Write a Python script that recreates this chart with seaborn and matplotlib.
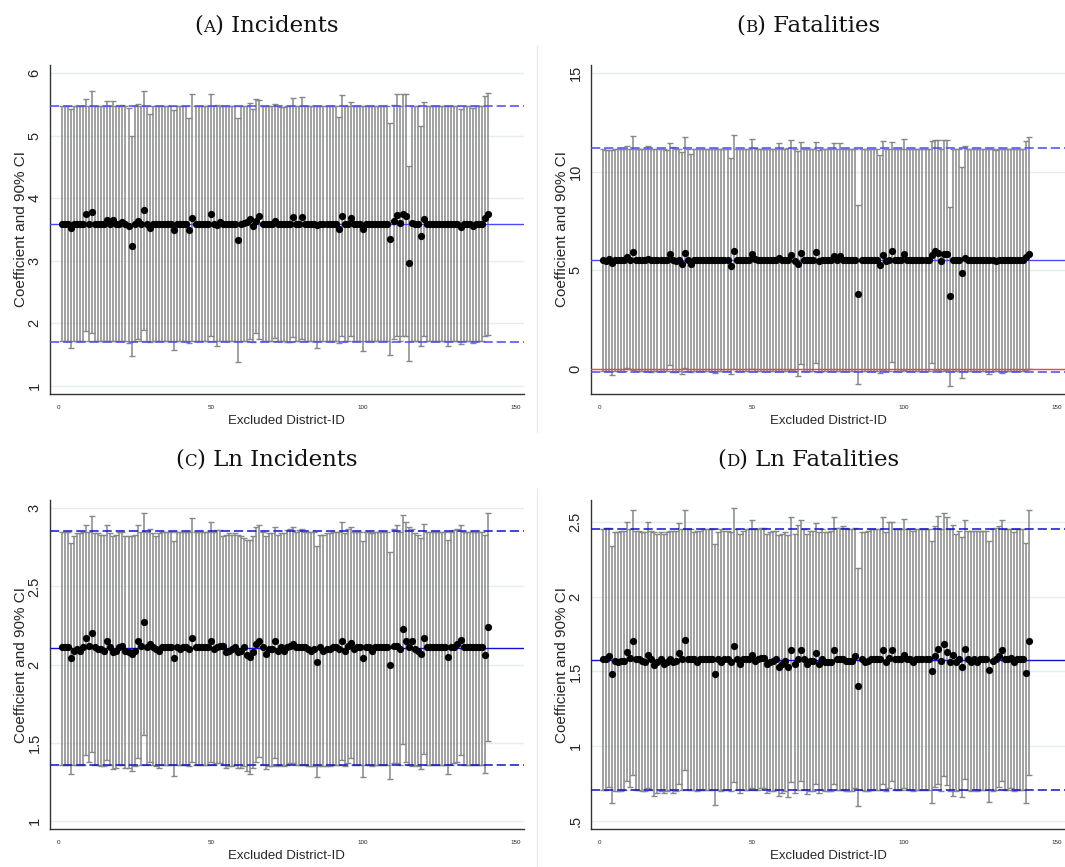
import numpy as np
import pandas as pd
import seaborn as sns
import matplotlib.pyplot as plt
from matplotlib.lines import Line2D

# Excluded district ids (one regression per excluded district)
district = list(range(1, 142))

# (A) Incidents
inc_coef = [3.59, 3.59, 3.59, 3.52, 3.59, 3.59, 3.59, 3.59, 3.74, 3.59,
            3.78, 3.59, 3.59, 3.59, 3.59, 3.65, 3.59, 3.65, 3.59, 3.59,
            3.62, 3.59, 3.55, 3.23, 3.59, 3.64, 3.59, 3.81, 3.59, 3.53,
            3.59, 3.59, 3.59, 3.59, 3.59, 3.59, 3.59, 3.49, 3.59, 3.59,
            3.59, 3.59, 3.49, 3.69, 3.59, 3.59, 3.59, 3.59, 3.59, 3.74,
            3.59, 3.57, 3.62, 3.59, 3.59, 3.59, 3.59, 3.59, 3.33, 3.59,
            3.60, 3.62, 3.67, 3.56, 3.64, 3.72, 3.59, 3.59, 3.59, 3.59,
            3.64, 3.59, 3.59, 3.59, 3.59, 3.59, 3.70, 3.59, 3.59, 3.70,
            3.59, 3.59, 3.59, 3.59, 3.57, 3.59, 3.59, 3.59, 3.59, 3.59,
            3.59, 3.50, 3.72, 3.59, 3.59, 3.68, 3.59, 3.59, 3.59, 3.51,
            3.59, 3.59, 3.59, 3.59, 3.59, 3.59, 3.59, 3.59, 3.35, 3.63,
            3.73, 3.60, 3.74, 3.72, 2.96, 3.61, 3.59, 3.59, 3.39, 3.67,
            3.59, 3.59, 3.59, 3.59, 3.59, 3.59, 3.59, 3.59, 3.59, 3.59,
            3.59, 3.54, 3.59, 3.59, 3.59, 3.56, 3.59, 3.59, 3.59, 3.69,
            3.75]
inc_hi = [5.47, 5.47, 5.47, 5.42, 5.47, 5.47, 5.47, 5.47, 5.58, 5.47,
          5.71, 5.47, 5.47, 5.47, 5.47, 5.56, 5.47, 5.55, 5.47, 5.47,
          5.49, 5.47, 5.45, 4.99, 5.47, 5.50, 5.47, 5.72, 5.47, 5.35,
          5.47, 5.47, 5.47, 5.47, 5.47, 5.47, 5.47, 5.41, 5.47, 5.47,
          5.47, 5.47, 5.29, 5.66, 5.47, 5.47, 5.47, 5.47, 5.47, 5.66,
          5.47, 5.49, 5.48, 5.47, 5.47, 5.47, 5.47, 5.47, 5.29, 5.47,
          5.47, 5.48, 5.53, 5.43, 5.58, 5.57, 5.47, 5.47, 5.47, 5.47,
          5.50, 5.47, 5.46, 5.46, 5.47, 5.47, 5.61, 5.47, 5.47, 5.62,
          5.47, 5.47, 5.47, 5.47, 5.48, 5.47, 5.47, 5.47, 5.47, 5.47,
          5.47, 5.30, 5.65, 5.47, 5.47, 5.54, 5.47, 5.47, 5.47, 5.47,
          5.47, 5.47, 5.47, 5.47, 5.47, 5.47, 5.47, 5.47, 5.21, 5.49,
          5.67, 5.47, 5.67, 5.66, 4.51, 5.48, 5.47, 5.47, 5.15, 5.54,
          5.47, 5.47, 5.47, 5.47, 5.47, 5.47, 5.47, 5.48, 5.47, 5.47,
          5.47, 5.43, 5.47, 5.47, 5.47, 5.45, 5.47, 5.47, 5.47, 5.64,
          5.69]
inc_lo = [1.71, 1.71, 1.71, 1.61, 1.71, 1.71, 1.71, 1.71, 1.87, 1.71,
          1.84, 1.71, 1.71, 1.71, 1.71, 1.72, 1.71, 1.72, 1.71, 1.71,
          1.72, 1.71, 1.68, 1.47, 1.71, 1.74, 1.71, 1.89, 1.71, 1.70,
          1.71, 1.71, 1.71, 1.71, 1.71, 1.71, 1.71, 1.57, 1.71, 1.71,
          1.71, 1.71, 1.68, 1.71, 1.71, 1.71, 1.71, 1.71, 1.71, 1.79,
          1.71, 1.64, 1.72, 1.71, 1.71, 1.71, 1.71, 1.71, 1.38, 1.71,
          1.71, 1.72, 1.74, 1.70, 1.85, 1.74, 1.71, 1.71, 1.71, 1.71,
          1.76, 1.71, 1.71, 1.71, 1.70, 1.70, 1.78, 1.71, 1.71, 1.75,
          1.71, 1.71, 1.71, 1.71, 1.61, 1.71, 1.71, 1.71, 1.71, 1.71,
          1.71, 1.68, 1.79, 1.71, 1.71, 1.80, 1.71, 1.71, 1.71, 1.56,
          1.71, 1.71, 1.71, 1.71, 1.71, 1.71, 1.71, 1.71, 1.49, 1.75,
          1.79, 1.71, 1.80, 1.79, 1.40, 1.72, 1.71, 1.71, 1.64, 1.80,
          1.71, 1.71, 1.71, 1.71, 1.71, 1.71, 1.71, 1.64, 1.71, 1.71,
          1.71, 1.66, 1.71, 1.71, 1.71, 1.69, 1.71, 1.71, 1.71, 1.79,
          1.81]
inc_ref = [3.59, 1.70, 5.48]  # full-sample coefficient, lower and upper bound

# (B) Fatalities
fat_coef = [5.53, 5.50, 5.60, 5.36, 5.53, 5.53, 5.53, 5.53, 5.70, 5.55,
            5.93, 5.53, 5.53, 5.53, 5.53, 5.58, 5.53, 5.53, 5.53, 5.53,
            5.53, 5.53, 5.85, 5.55, 5.48, 5.53, 5.31, 5.90, 5.55, 5.30,
            5.53, 5.53, 5.53, 5.53, 5.53, 5.53, 5.53, 5.53, 5.53, 5.53,
            5.53, 5.53, 5.20, 5.96, 5.53, 5.53, 5.53, 5.53, 5.53, 5.83,
            5.60, 5.53, 5.53, 5.53, 5.53, 5.53, 5.53, 5.53, 5.65, 5.53,
            5.53, 5.53, 5.80, 5.45, 5.32, 5.90, 5.53, 5.53, 5.53, 5.53,
            5.93, 5.48, 5.53, 5.53, 5.53, 5.53, 5.74, 5.55, 5.72, 5.53,
            5.53, 5.53, 5.53, 5.53, 3.79, 5.53, 5.53, 5.53, 5.53, 5.53,
            5.53, 5.26, 5.77, 5.45, 5.55, 5.96, 5.53, 5.53, 5.53, 5.82,
            5.53, 5.53, 5.53, 5.53, 5.53, 5.53, 5.53, 5.53, 5.80, 6.00,
            5.86, 5.50, 5.82, 5.83, 3.70, 5.53, 5.53, 5.53, 4.88, 5.62,
            5.53, 5.53, 5.53, 5.53, 5.53, 5.53, 5.53, 5.53, 5.53, 5.45,
            5.53, 5.53, 5.53, 5.53, 5.53, 5.53, 5.53, 5.53, 5.53, 5.70,
            5.85]
fat_hi = [11.15, 11.10, 11.12, 11.08, 11.18, 11.18, 11.18, 11.18, 11.33, 11.18,
          11.80, 11.18, 11.18, 11.18, 11.18, 11.30, 11.18, 11.18, 11.18, 11.18,
          11.15, 11.12, 11.48, 11.28, 11.18, 11.18, 11.02, 11.75, 11.18, 10.90,
          11.18, 11.18, 11.18, 11.18, 11.18, 11.18, 11.18, 11.18, 11.18, 11.18,
          11.18, 11.15, 10.70, 11.88, 11.18, 11.18, 11.18, 11.18, 11.18, 11.65,
          11.20, 11.18, 11.18, 11.18, 11.18, 11.18, 11.18, 11.18, 11.45, 11.18,
          11.18, 11.22, 11.60, 11.18, 11.05, 11.50, 11.18, 11.18, 11.18, 11.18,
          11.50, 11.12, 11.18, 11.18, 11.18, 11.18, 11.45, 11.18, 11.47, 11.18,
          11.18, 11.18, 11.18, 11.18, 8.30, 11.18, 11.18, 11.18, 11.18, 11.18,
          11.18, 10.85, 11.55, 11.15, 11.18, 11.50, 11.18, 11.18, 11.18, 11.65,
          11.18, 11.18, 11.18, 11.18, 11.18, 11.18, 11.18, 11.18, 11.58, 11.60,
          11.62, 11.18, 11.62, 11.62, 8.20, 11.18, 11.18, 11.18, 10.25, 11.30,
          11.18, 11.18, 11.18, 11.18, 11.18, 11.18, 11.18, 11.18, 11.18, 11.10,
          11.18, 11.18, 11.18, 11.18, 11.18, 11.18, 11.18, 11.18, 11.18, 11.55,
          11.75]
fat_lo = [-0.12, -0.12, -0.12, -0.30, -0.12, -0.12, -0.12, -0.12, 0.05, 0.02,
          -0.05, -0.12, -0.12, -0.12, -0.12, -0.12, -0.18, -0.12, -0.12, -0.12,
          -0.12, -0.12, 0.18, -0.15, -0.15, -0.12, -0.28, 0.05, -0.12, -0.15,
          -0.12, -0.12, -0.12, -0.12, -0.12, -0.12, -0.12, -0.20, -0.12, -0.12,
          -0.12, -0.12, -0.25, 0.02, -0.12, -0.12, -0.12, -0.12, -0.12, 0.00,
          -0.12, -0.12, -0.12, -0.12, -0.12, -0.12, -0.12, -0.12, -0.12, -0.12,
          -0.12, -0.12, -0.05, -0.12, -0.35, 0.25, -0.12, -0.12, -0.12, -0.12,
          0.30, -0.15, -0.12, -0.12, -0.12, -0.12, -0.12, -0.12, -0.12, -0.12,
          -0.12, -0.12, -0.12, -0.12, -0.75, -0.12, -0.12, -0.12, -0.12, -0.12,
          -0.12, -0.22, -0.05, -0.12, -0.12, 0.35, -0.12, -0.12, -0.12, -0.05,
          -0.12, -0.12, -0.12, -0.12, -0.12, -0.12, -0.12, -0.12, 0.30, -0.05,
          -0.05, -0.12, -0.08, -0.05, -0.85, -0.12, -0.12, -0.12, -0.45, -0.08,
          -0.12, -0.12, -0.12, -0.12, -0.12, -0.12, -0.12, -0.28, -0.12, -0.12,
          -0.12, -0.22, -0.12, -0.12, -0.12, -0.12, -0.12, -0.12, -0.12, -0.05,
          0.00]
fat_ref = [5.53, -0.15, 11.21]

# (C) Ln Incidents
lninc_coef = [2.11, 2.11, 2.11, 2.04, 2.09, 2.10, 2.09, 2.11, 2.17, 2.12,
              2.20, 2.11, 2.10, 2.10, 2.09, 2.15, 2.11, 2.08, 2.09, 2.11,
              2.12, 2.09, 2.08, 2.07, 2.09, 2.15, 2.12, 2.27, 2.11, 2.13,
              2.11, 2.10, 2.09, 2.11, 2.11, 2.11, 2.11, 2.04, 2.11, 2.10,
              2.11, 2.11, 2.10, 2.17, 2.11, 2.11, 2.11, 2.11, 2.11, 2.15,
              2.10, 2.11, 2.12, 2.12, 2.08, 2.09, 2.10, 2.11, 2.08, 2.09,
              2.11, 2.06, 2.05, 2.08, 2.13, 2.15, 2.11, 2.07, 2.10, 2.10,
              2.15, 2.09, 2.11, 2.09, 2.11, 2.12, 2.13, 2.11, 2.11, 2.11,
              2.11, 2.10, 2.09, 2.10, 2.02, 2.11, 2.09, 2.10, 2.10, 2.11,
              2.11, 2.10, 2.15, 2.09, 2.12, 2.14, 2.10, 2.11, 2.11, 2.04,
              2.11, 2.11, 2.09, 2.11, 2.11, 2.11, 2.11, 2.11, 2.00, 2.12,
              2.12, 2.10, 2.23, 2.15, 2.11, 2.15, 2.10, 2.09, 2.07, 2.17,
              2.11, 2.11, 2.11, 2.11, 2.11, 2.11, 2.11, 2.05, 2.11, 2.11,
              2.13, 2.16, 2.11, 2.11, 2.11, 2.11, 2.11, 2.11, 2.11, 2.06,
              2.24]
lninc_hi = [2.85, 2.85, 2.85, 2.78, 2.82, 2.84, 2.84, 2.85, 2.89, 2.85,
            2.95, 2.84, 2.84, 2.83, 2.83, 2.89, 2.84, 2.82, 2.83, 2.85,
            2.85, 2.82, 2.82, 2.82, 2.83, 2.89, 2.85, 2.97, 2.85, 2.87,
            2.84, 2.82, 2.84, 2.85, 2.85, 2.85, 2.85, 2.79, 2.85, 2.85,
            2.85, 2.85, 2.85, 2.94, 2.85, 2.85, 2.85, 2.85, 2.85, 2.91,
            2.85, 2.86, 2.86, 2.82, 2.83, 2.84, 2.83, 2.84, 2.83, 2.82,
            2.81, 2.80, 2.80, 2.82, 2.88, 2.89, 2.85, 2.82, 2.84, 2.84,
            2.88, 2.83, 2.84, 2.84, 2.86, 2.87, 2.88, 2.85, 2.86, 2.87,
            2.85, 2.85, 2.85, 2.85, 2.76, 2.83, 2.83, 2.84, 2.84, 2.85,
            2.85, 2.85, 2.91, 2.84, 2.87, 2.88, 2.85, 2.85, 2.85, 2.79,
            2.85, 2.85, 2.84, 2.85, 2.85, 2.85, 2.85, 2.85, 2.72, 2.87,
            2.89, 2.85, 2.96, 2.91, 2.88, 2.87, 2.84, 2.83, 2.81, 2.90,
            2.85, 2.85, 2.85, 2.85, 2.85, 2.85, 2.85, 2.80, 2.85, 2.86,
            2.87, 2.89, 2.85, 2.85, 2.85, 2.85, 2.85, 2.85, 2.85, 2.83,
            2.97]
lninc_lo = [1.36, 1.36, 1.36, 1.30, 1.36, 1.36, 1.36, 1.36, 1.42, 1.38,
            1.44, 1.36, 1.36, 1.35, 1.35, 1.39, 1.36, 1.33, 1.34, 1.36,
            1.36, 1.34, 1.34, 1.32, 1.35, 1.40, 1.36, 1.55, 1.36, 1.38,
            1.36, 1.35, 1.34, 1.36, 1.36, 1.36, 1.36, 1.29, 1.36, 1.36,
            1.36, 1.36, 1.35, 1.38, 1.36, 1.36, 1.36, 1.36, 1.36, 1.38,
            1.36, 1.37, 1.37, 1.36, 1.34, 1.35, 1.35, 1.36, 1.34, 1.34,
            1.35, 1.32, 1.30, 1.34, 1.38, 1.41, 1.36, 1.33, 1.35, 1.35,
            1.40, 1.35, 1.36, 1.35, 1.36, 1.37, 1.37, 1.36, 1.36, 1.36,
            1.36, 1.35, 1.35, 1.35, 1.28, 1.35, 1.35, 1.35, 1.35, 1.36,
            1.36, 1.36, 1.39, 1.35, 1.37, 1.40, 1.36, 1.36, 1.36, 1.28,
            1.36, 1.36, 1.35, 1.36, 1.36, 1.36, 1.36, 1.36, 1.27, 1.37,
            1.37, 1.36, 1.49, 1.38, 1.36, 1.35, 1.36, 1.35, 1.33, 1.43,
            1.36, 1.36, 1.36, 1.36, 1.36, 1.36, 1.36, 1.30, 1.36, 1.37,
            1.38, 1.42, 1.36, 1.36, 1.36, 1.36, 1.36, 1.36, 1.36, 1.31,
            1.51]
lninc_ref = [2.107, 1.358, 2.855]

# (D) Ln Fatalities
lnfat_coef = [1.58, 1.58, 1.60, 1.48, 1.57, 1.56, 1.57, 1.57, 1.63, 1.59,
              1.70, 1.58, 1.58, 1.57, 1.56, 1.61, 1.58, 1.54, 1.56, 1.58,
              1.55, 1.56, 1.58, 1.56, 1.57, 1.62, 1.58, 1.71, 1.58, 1.58,
              1.58, 1.56, 1.58, 1.58, 1.58, 1.58, 1.58, 1.48, 1.58, 1.56,
              1.58, 1.58, 1.56, 1.67, 1.58, 1.55, 1.58, 1.58, 1.58, 1.61,
              1.57, 1.58, 1.59, 1.59, 1.55, 1.56, 1.57, 1.58, 1.53, 1.55,
              1.57, 1.53, 1.64, 1.55, 1.58, 1.64, 1.58, 1.55, 1.57, 1.57,
              1.62, 1.55, 1.58, 1.56, 1.56, 1.56, 1.64, 1.58, 1.58, 1.58,
              1.57, 1.57, 1.57, 1.60, 1.40, 1.58, 1.56, 1.57, 1.58, 1.58,
              1.58, 1.58, 1.64, 1.56, 1.59, 1.64, 1.58, 1.58, 1.58, 1.61,
              1.58, 1.58, 1.56, 1.58, 1.58, 1.58, 1.58, 1.58, 1.50, 1.60,
              1.65, 1.57, 1.68, 1.63, 1.56, 1.61, 1.56, 1.58, 1.53, 1.65,
              1.58, 1.56, 1.58, 1.56, 1.58, 1.58, 1.58, 1.51, 1.57, 1.58,
              1.60, 1.64, 1.58, 1.58, 1.59, 1.56, 1.58, 1.58, 1.58, 1.49,
              1.70]
lnfat_hi = [2.45, 2.46, 2.46, 2.34, 2.43, 2.43, 2.44, 2.44, 2.50, 2.45,
            2.58, 2.44, 2.44, 2.43, 2.43, 2.50, 2.44, 2.43, 2.42, 2.43,
            2.42, 2.43, 2.44, 2.44, 2.44, 2.49, 2.45, 2.58, 2.45, 2.45,
            2.43, 2.44, 2.44, 2.45, 2.45, 2.45, 2.45, 2.35, 2.43, 2.45,
            2.44, 2.44, 2.43, 2.59, 2.45, 2.42, 2.44, 2.45, 2.45, 2.51,
            2.45, 2.45, 2.46, 2.46, 2.42, 2.43, 2.44, 2.44, 2.41, 2.42,
            2.43, 2.41, 2.53, 2.42, 2.48, 2.51, 2.45, 2.42, 2.44, 2.44,
            2.49, 2.43, 2.45, 2.43, 2.43, 2.44, 2.53, 2.46, 2.46, 2.47,
            2.46, 2.45, 2.45, 2.46, 2.19, 2.43, 2.43, 2.44, 2.45, 2.45,
            2.45, 2.45, 2.53, 2.43, 2.50, 2.50, 2.45, 2.45, 2.45, 2.52,
            2.45, 2.45, 2.44, 2.45, 2.45, 2.45, 2.45, 2.45, 2.37, 2.47,
            2.54, 2.45, 2.56, 2.53, 2.45, 2.48, 2.42, 2.44, 2.40, 2.51,
            2.44, 2.44, 2.44, 2.44, 2.44, 2.44, 2.44, 2.37, 2.45, 2.46,
            2.47, 2.51, 2.45, 2.45, 2.45, 2.43, 2.45, 2.45, 2.45, 2.36,
            2.58]
lnfat_lo = [0.71, 0.71, 0.73, 0.62, 0.70, 0.70, 0.70, 0.71, 0.77, 0.73,
            0.81, 0.71, 0.71, 0.70, 0.70, 0.72, 0.71, 0.67, 0.69, 0.70,
            0.69, 0.70, 0.71, 0.69, 0.70, 0.75, 0.71, 0.84, 0.71, 0.71,
            0.71, 0.70, 0.71, 0.71, 0.71, 0.71, 0.71, 0.61, 0.71, 0.70,
            0.71, 0.71, 0.70, 0.76, 0.71, 0.69, 0.71, 0.71, 0.71, 0.72,
            0.71, 0.71, 0.72, 0.72, 0.69, 0.70, 0.70, 0.71, 0.67, 0.69,
            0.70, 0.66, 0.76, 0.69, 0.71, 0.77, 0.71, 0.68, 0.70, 0.70,
            0.75, 0.69, 0.71, 0.70, 0.70, 0.70, 0.75, 0.71, 0.71, 0.71,
            0.70, 0.70, 0.70, 0.72, 0.60, 0.71, 0.70, 0.70, 0.71, 0.71,
            0.71, 0.71, 0.75, 0.70, 0.72, 0.77, 0.71, 0.71, 0.71, 0.72,
            0.71, 0.71, 0.70, 0.71, 0.71, 0.71, 0.71, 0.71, 0.62, 0.73,
            0.75, 0.70, 0.80, 0.74, 0.70, 0.67, 0.70, 0.71, 0.66, 0.78,
            0.71, 0.70, 0.71, 0.70, 0.71, 0.71, 0.71, 0.63, 0.70, 0.71,
            0.73, 0.77, 0.71, 0.71, 0.72, 0.70, 0.71, 0.71, 0.71, 0.62,
            0.81]
lnfat_ref = [1.578, 0.705, 2.453]

xtick_vals = [0, 50, 100, 150]

# ---- style
sns.set_style("white")
plt.rcParams['font.family'] = ['Liberation Sans', 'DejaVu Sans']
plt.rcParams['axes.edgecolor'] = '#333333'

fig = plt.figure(figsize=(10.65, 8.67), dpi=100)

top_row, bot_row, h = 0.5456, 0.0438, 0.3795
panels = [
    dict(letter='A', name='Incidents', coef=inc_coef, lo=inc_lo, hi=inc_hi, ref=inc_ref,
         rect=[0.0469, top_row, 0.445, h], ylim=(0.867, 6.133),
         yticks=[1, 2, 3, 4, 5, 6], ylabels=['1', '2', '3', '4', '5', '6'],
         line='#4848ff', zero=False, tx=0.250, ty=0.9634),
    dict(letter='B', name='Fatalities', coef=fat_coef, lo=fat_lo, hi=fat_hi, ref=fat_ref,
         rect=[0.555, top_row, 0.445, h], ylim=(-1.27, 15.42),
         yticks=[0, 5, 10, 15], ylabels=['0', '5', '10', '15'],
         line='#4848ff', zero=True, tx=0.759, ty=0.9634),
    dict(letter='C', name='Ln Incidents', coef=lninc_coef, lo=lninc_lo, hi=lninc_hi, ref=lninc_ref,
         rect=[0.0469, bot_row, 0.445, h], ylim=(0.949, 3.053),
         yticks=[1, 1.5, 2, 2.5, 3], ylabels=['1', '1.5', '2', '2.5', '3'],
         line='#1010d0', zero=False, tx=0.250, ty=0.4626),
    dict(letter='D', name='Ln Fatalities', coef=lnfat_coef, lo=lnfat_lo, hi=lnfat_hi, ref=lnfat_ref,
         rect=[0.555, bot_row, 0.445, h], ylim=(0.447, 2.645),
         yticks=[0.5, 1, 1.5, 2, 2.5], ylabels=['.5', '1', '1.5', '2', '2.5'],
         line='#1010d0', zero=False, tx=0.759, ty=0.4626),
]


def panel_title(fig, xc, y, letter, name):
    # "(A) Incidents" with the letter in small caps
    pieces = [("(", 16.5), (letter, 12), (") " + name, 16.5)]
    renderer = fig.canvas.get_renderer()
    texts, widths = [], []
    for s, size in pieces:
        t = fig.text(0, y, s, fontsize=size, family=['DejaVu Serif'],
                     ha='left', va='baseline', color='#111111')
        texts.append(t)
        widths.append(t.get_window_extent(renderer).width / fig.bbox.width)
    x = xc - sum(widths) / 2
    for t, w in zip(texts, widths):
        t.set_x(x)
        x += w


for p in panels:
    ax = fig.add_axes(p['rect'])
    coef = np.array(p['coef'])
    lo = np.array(p['lo'])
    hi = np.array(p['hi'])
    df = pd.DataFrame({'district': district, 'coef': coef})

    ax.set_axisbelow(True)
    ax.grid(axis='y', color='#e4eeef', lw=1.0)

    # 90% CI bars with caps
    ax.errorbar(df['district'], df['coef'], yerr=[coef - lo, hi - coef], fmt='none',
                ecolor='#878787', elinewidth=1.1, capsize=2.2, capthick=1.0, zorder=2)

    # full-sample coefficient and its CI
    ax.axhline(p['ref'][0], color=p['line'], lw=1.0, zorder=3)
    ax.axhline(p['ref'][1], color=p['line'], lw=1.1, ls='--', dashes=(6, 2.6), zorder=3)
    ax.axhline(p['ref'][2], color=p['line'], lw=1.1, ls='--', dashes=(6, 2.6), zorder=3)
    if p['zero']:
        ax.axhline(0, color='#ff4040', lw=1.0, zorder=3)

    sns.scatterplot(data=df, x='district', y='coef', color='black', s=27,
                    linewidth=0, ax=ax, zorder=4)

    ax.set_xlim(-2.8, 152.8)
    ax.set_ylim(*p['ylim'])
    ax.set_xticks(xtick_vals)
    ax.set_xticklabels([str(v) for v in xtick_vals], fontsize=4.5)
    ax.set_yticks(p['yticks'])
    ax.set_yticklabels(p['ylabels'], fontsize=10.5, rotation=90, va='center')
    ax.tick_params(axis='y', length=4, width=0.8, color='#333333', pad=2)
    ax.tick_params(axis='x', length=3.5, width=0.8, color='#333333', pad=4.5)
    ax.set_xlabel('Excluded District-ID', fontsize=9.5, labelpad=3.5)
    ax.set_ylabel('Coefficient and 90% CI', fontsize=11, labelpad=0)
    sns.despine(ax=ax)
    for s in ['left', 'bottom']:
        ax.spines[s].set_linewidth(1.0)

    panel_title(fig, p['tx'], p['ty'], p['letter'], p['name'])

# faint separators between the sub-figures
fig.add_artist(Line2D([537 / 1065] * 2, [1 - 45 / 867, 1 - 432 / 867],
                      transform=fig.transFigure, color='#e8e8e8', lw=0.8))
fig.add_artist(Line2D([537 / 1065] * 2, [1 - 488 / 867, 0],
                      transform=fig.transFigure, color='#e8e8e8', lw=0.8))

fig.savefig('out.png', dpi=100)
